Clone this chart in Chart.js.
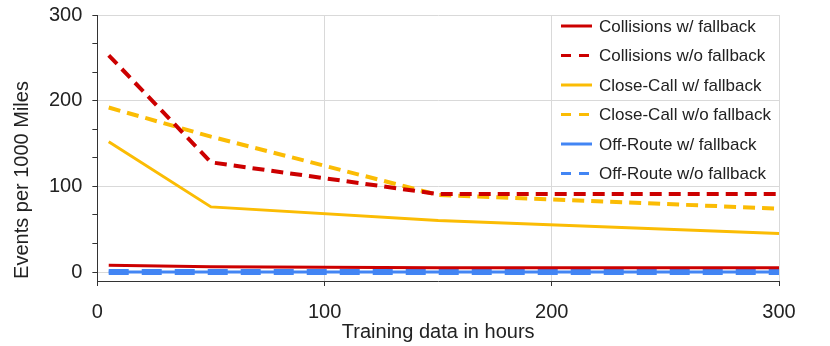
<!DOCTYPE html>
<html>
<head>
<meta charset="utf-8">
<script src="https://cdn.jsdelivr.net/npm/chart.js@4.4.1/dist/chart.umd.min.js"></script>
<style>
    html, body { margin: 0; padding: 0; background: #fff; }
    #wrap { width: 830px; height: 346px; position: relative; }
</style>
</head>
<body>
<div id="wrap"><canvas id="myChart"></canvas></div>
<script>
// hours of training data
const hours = [5, 50, 150, 300];

// events per 1000 miles
const collisionsWith = [8, 6, 5, 5];
const collisionsWithout = [253, 128, 91, 91];
const closeCallWith = [152, 76, 60, 45];
const closeCallWithout = [192, 158, 90, 74];
const offRouteWith = [0, 0, 0, 0];
const offRouteWithout = [0, 0, 0, 0];

const xTicks = [0, 100, 200, 300];
const yTicks = [0, 100, 200, 300];

const FONT = "Arial, 'Liberation Sans', sans-serif";
const RED = '#cc0000';
const YELLOW = '#fbbc04';
const BLUE = '#4285f4';

function toPoints(values) {
    return hours.map((h, i) => ({ x: h, y: values[i] }));
}

const series = [
    { label: 'Collisions w/ fallback', data: collisionsWith, color: RED, dash: [], width: 3 },
    { label: 'Collisions w/o fallback', data: collisionsWithout, color: RED, dash: [12, 7], width: 4 },
    { label: 'Close-Call w/ fallback', data: closeCallWith, color: YELLOW, dash: [], width: 3 },
    { label: 'Close-Call w/o fallback', data: closeCallWithout, color: YELLOW, dash: [12, 7], width: 4 },
    { label: 'Off-Route w/ fallback', data: offRouteWith, color: BLUE, dash: [], width: 3 },
    { label: 'Off-Route w/o fallback', data: offRouteWithout, color: BLUE, dash: [20, 13], width: 6 }
];

// legend drawn inside the plot, plus both axis titles
const extras = {
    id: 'extras',
    afterDraw(chart) {
        const ctx = chart.ctx;
        const area = chart.chartArea;
        ctx.save();
        ctx.font = '17px ' + FONT;
        ctx.textBaseline = 'middle';
        ctx.textAlign = 'left';
        series.forEach((s, i) => {
            const y = 26 + i * 29.5;
            ctx.strokeStyle = s.color;
            ctx.lineWidth = 3;
            ctx.setLineDash(s.dash.length ? [10, 8] : []);
            ctx.beginPath();
            ctx.moveTo(561, y);
            ctx.lineTo(592, y);
            ctx.stroke();
            ctx.fillStyle = '#222';
            ctx.fillText(s.label, 599, y + 1);
        });
        ctx.setLineDash([]);
        ctx.textAlign = 'center';
        ctx.font = '20px ' + FONT;
        ctx.fillText('Training data in hours', (area.left + area.right) / 2, 332);
        ctx.translate(22, 180);
        ctx.rotate(-Math.PI / 2);
        ctx.fillText('Events per 1000 Miles', 0, 0);
        ctx.restore();
    }
};

const ctx = document.getElementById('myChart').getContext('2d');
const myChart = new Chart(ctx, {
    type: 'line',
    data: {
        datasets: series.map(s => ({
            label: s.label,
            data: toPoints(s.data),
            borderColor: s.color,
            backgroundColor: s.color,
            borderDash: s.dash,
            borderWidth: s.width,
            pointRadius: 0,
            tension: 0,
            fill: false
        }))
    },
    options: {
        responsive: true,
        maintainAspectRatio: false,
        animation: false,
        layout: { padding: { left: 39, right: 51, top: 15, bottom: 8 } },
        plugins: {
            legend: { display: false },
            tooltip: { enabled: false }
        },
        scales: {
            x: {
                type: 'linear',
                min: 0,
                max: 300,
                afterBuildTicks: axis => { axis.ticks = xTicks.map(v => ({ value: v })); },
                afterFit: axis => { axis.paddingLeft = 0; axis.paddingRight = 0; },
                ticks: { color: '#222', font: { family: FONT, size: 20 }, padding: 14, maxRotation: 0 },
                grid: {
                    color: c => c.tick && c.tick.value === 0 ? 'rgba(0,0,0,0)' : '#d9d9d9',
                    tickColor: '#333',
                    tickLength: 5
                },
                border: { color: '#333', width: 1 }
            },
            y: {
                min: -10.5,
                max: 300,
                afterBuildTicks: axis => {
                    const t = [];
                    for (let i = 0; i <= 9; i++) t.push({ value: i * 100 / 3 });
                    axis.ticks = t;
                },
                afterFit: axis => { axis.paddingTop = 0; axis.paddingBottom = 0; },
                ticks: {
                    color: '#222',
                    font: { family: FONT, size: 20 },
                    padding: 10,
                    callback: v => {
                        const r = Math.round(v);
                        return Math.abs(v - r) < 1e-6 && yTicks.includes(r) ? String(r) : '';
                    }
                },
                grid: {
                    color: c => {
                        const v = c.tick ? c.tick.value : 1;
                        const r = Math.round(v);
                        return Math.abs(v - r) < 1e-6 && yTicks.includes(r) ? '#d9d9d9' : 'rgba(0,0,0,0)';
                    },
                    tickColor: '#333',
                    tickLength: 5
                },
                border: { color: '#333', width: 1 }
            }
        }
    },
    plugins: [extras]
});
</script>
</body>
</html>
